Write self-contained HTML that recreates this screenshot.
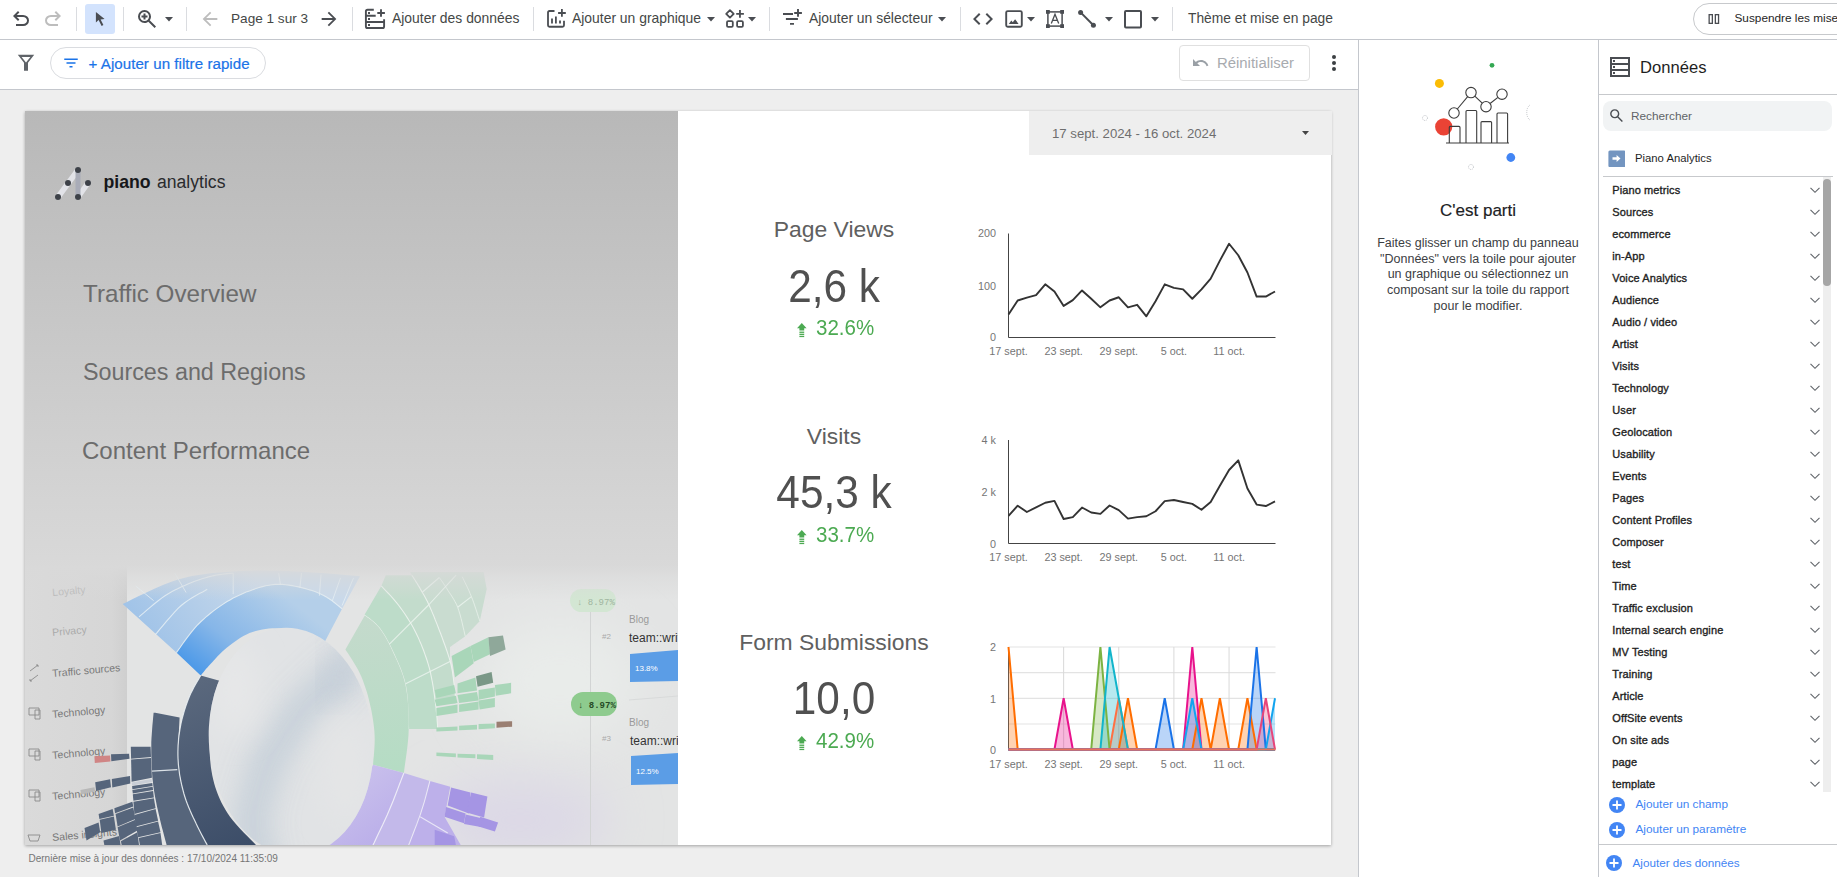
<!DOCTYPE html><html><head><meta charset="utf-8"><style>
html,body{margin:0;padding:0;width:1837px;height:877px;overflow:hidden;background:#fff;font-family:"Liberation Sans", sans-serif;}
.t{position:absolute;white-space:nowrap;}.r{position:absolute;}
</style></head><body>
<div class="r" style="left:0px;top:39px;width:1837px;height:1px;background:#c4c7cd;"></div>
<svg class="r" style="left:9.2px;top:7.3px;" width="24" height="24" viewBox="0 -960 960 960"><path d="M280-200v-80h284q63 0 109.5-40T720-420q0-60-46.5-100T564-560H312l104 104-56 56-200-200 200-200 56 56-104 104h252q97 0 166.5 63T800-420q0 94-69.5 157T564-200H280Z" fill="#4a4d52"/></svg>
<svg class="r" style="left:41.2px;top:7.4px;" width="24" height="24" viewBox="0 -960 960 960"><g transform="translate(960 0) scale(-1 1)"><path d="M280-200v-80h284q63 0 109.5-40T720-420q0-60-46.5-100T564-560H312l104 104-56 56-200-200 200-200 56 56-104 104h252q97 0 166.5 63T800-420q0 94-69.5 157T564-200H280Z" fill="#bdbdbd"/></g></svg>
<div class="r" style="left:76px;top:7px;width:1px;height:24px;background:#dadce0;"></div>
<div class="r" style="left:85px;top:4px;width:30px;height:30px;background:#d3e3fd;border-radius:3px;"></div>
<svg class="r" style="left:93px;top:11px;" width="16" height="16" viewBox="0 0 16 16"><path d="M2.9 0.9 L2.9 11.6 L5.6 9.1 L8.6 15 L10.4 14.1 L7.6 8.4 L11.6 8.1 Z" fill="#4a4d52"/></svg>
<div class="r" style="left:123px;top:7px;width:1px;height:24px;background:#dadce0;"></div>
<svg class="r" style="left:135px;top:7px;" width="24" height="24" viewBox="0 -960 960 960"><path d="M784-120 532-372q-30 24-69 38t-83 14q-109 0-184.5-75.5T120-580q0-109 75.5-184.5T380-840q109 0 184.5 75.5T640-580q0 44-14 83t-38 69l252 252-56 56ZM380-400q75 0 127.5-52.5T560-580q0-75-52.5-127.5T380-760q-75 0-127.5 52.5T200-580q0 75 52.5 127.5T380-400Zm-40-60v-80h-80v-80h80v-80h80v80h80v80h-80v80h-80Z" fill="#4a4d52"/></svg>
<svg class="r" style="left:164.5px;top:17px;" width="8" height="5" viewBox="0 0 8 5"><path d="M0 0H8L4 4.5Z" fill="#4a4d52"/></svg>
<div class="r" style="left:186px;top:7px;width:1px;height:24px;background:#dadce0;"></div>
<svg class="r" style="left:199px;top:7.8px;" width="22" height="22" viewBox="0 -960 960 960"><path d="m313-440 224 224-57 57-320-321 320-320 57 57-224 224h487v80H313Z" fill="#bdbdbd"/></svg>
<div class="t" style="left:231.0px;top:12.2px;font-size:13.6px;line-height:13.6px;color:#444746;font-weight:400;">Page 1 sur 3</div>
<svg class="r" style="left:318px;top:7.8px;" width="22" height="22" viewBox="0 -960 960 960"><path d="M647-440H160v-80h487L423-744l57-56 320 320-320 320-57-56 224-224Z" fill="#4a4d52"/></svg>
<div class="r" style="left:352px;top:7px;width:1px;height:24px;background:#dadce0;"></div>
<svg class="r" style="left:364px;top:8px;" width="23" height="22" viewBox="0 0 23 22"><g fill="none" stroke="#4a4d52" stroke-width="1.9"><path d="M9.8 1.7H3.5Q1.9 1.7 1.9 3.3V18.4Q1.9 20 3.5 20H18.5Q20.1 20 20.1 18.4V11.2"/><path d="M1.9 7.7H11.7M1.9 14H20.1"/><path d="M17 1.2V8.8M13.3 5H20.9"/></g><g fill="#4a4d52"><rect x="4" y="4" width="2" height="2"/><rect x="4" y="10" width="2" height="2"/><rect x="4" y="16" width="2" height="2"/></g></svg>
<div class="t" style="left:392.0px;top:12.1px;font-size:13.9px;line-height:13.9px;color:#444746;font-weight:400;">Ajouter des données</div>
<div class="r" style="left:533px;top:7px;width:1px;height:24px;background:#dadce0;"></div>
<svg class="r" style="left:546px;top:8px;" width="22" height="22" viewBox="0 0 22 22"><g fill="none" stroke="#4a4d52" stroke-width="1.8"><path d="M8.5 3H3.5Q2 3 2 4.5V17.25Q2 18.75 3.5 18.75H16.5Q18 18.75 18 17.25V12.8"/><path d="M6 10.5V15.5M9.9 8.5V15.5M14 12.6V15.5"/><path d="M15.9 1.1V8.7M12.1 5H19.8"/></g></svg>
<div class="t" style="left:572.0px;top:12.1px;font-size:13.9px;line-height:13.9px;color:#444746;font-weight:400;">Ajouter un graphique</div>
<svg class="r" style="left:706.5px;top:16.5px;" width="8" height="5" viewBox="0 0 8 5"><path d="M0 0H8L4 4.5Z" fill="#4a4d52"/></svg>
<svg class="r" style="left:724px;top:8px;" width="22" height="22" viewBox="0 0 22 22"><g fill="none" stroke="#4a4d52" stroke-width="1.8" stroke-linejoin="round"><path d="M5.95 2.1L9.7 5.85L5.95 9.6L2.2 5.85Z"/><rect x="3" y="13.1" width="5.8" height="5.8" rx="1.2"/><rect x="13.1" y="13.1" width="5.8" height="5.8" rx="1.2"/></g><path d="M15.95 2.1V9.7M12.2 5.95H19.9" stroke="#4a4d52" stroke-width="1.8"/></svg>
<svg class="r" style="left:747.5px;top:17px;" width="8" height="5" viewBox="0 0 8 5"><path d="M0 0H8L4 4.5Z" fill="#4a4d52"/></svg>
<div class="r" style="left:769px;top:7px;width:1px;height:24px;background:#dadce0;"></div>
<svg class="r" style="left:782px;top:8px;" width="22" height="22" viewBox="0 0 22 22"><path d="M1 6.05H11M3.9 11H15.9M8 15.9H12" stroke="#4a4d52" stroke-width="1.9"/><path d="M16 0.9V8.7M12.2 5H19.9" stroke="#4a4d52" stroke-width="1.9"/></svg>
<div class="t" style="left:809.0px;top:12.1px;font-size:13.9px;line-height:13.9px;color:#444746;font-weight:400;">Ajouter un sélecteur</div>
<svg class="r" style="left:938px;top:17px;" width="8" height="5" viewBox="0 0 8 5"><path d="M0 0H8L4 4.5Z" fill="#4a4d52"/></svg>
<div class="r" style="left:960px;top:7px;width:1px;height:24px;background:#dadce0;"></div>
<svg class="r" style="left:970px;top:7px;" width="26" height="24" viewBox="0 -960 960 960"><path d="M320-240 80-480l240-240 57 57-184 184 183 183-56 56Zm320 0-57-57 184-184-183-183 56-56 240 240-240 240Z" fill="#4a4d52"/></svg>
<svg class="r" style="left:1003px;top:8px;" width="22" height="22" viewBox="0 0 22 22"><rect x="3.2" y="3.1" width="15.6" height="15.6" rx="1.5" fill="none" stroke="#4a4d52" stroke-width="1.9"/><path d="M5.8 15.9L8.3 12.5L9.8 14.3L12.1 11.2L15.6 15.9Z" fill="#4a4d52"/></svg>
<svg class="r" style="left:1027px;top:17px;" width="8" height="5" viewBox="0 0 8 5"><path d="M0 0H8L4 4.5Z" fill="#4a4d52"/></svg>
<svg class="r" style="left:1045px;top:8px;" width="21" height="22" viewBox="0 0 21 22"><rect x="2.9" y="3.9" width="14.2" height="14.2" fill="none" stroke="#4a4d52" stroke-width="1.5"/><rect x="1" y="2" width="3.8" height="3.8" fill="#4a4d52"/><rect x="15.2" y="2" width="3.8" height="3.8" fill="#4a4d52"/><rect x="1" y="16.2" width="3.8" height="3.8" fill="#4a4d52"/><rect x="15.2" y="16.2" width="3.8" height="3.8" fill="#4a4d52"/><path d="M6.3 15.6L10 6.2L13.7 15.6M7.6 12.3H12.4" fill="none" stroke="#4a4d52" stroke-width="1.3"/></svg>
<svg class="r" style="left:1076px;top:8px;" width="22" height="22" viewBox="0 0 22 22"><path d="M4.6 4.4L17.4 17.2" stroke="#4a4d52" stroke-width="2"/><circle cx="4.6" cy="4.4" r="2.5" fill="#4a4d52"/><circle cx="17.4" cy="17.2" r="2.5" fill="#4a4d52"/></svg>
<svg class="r" style="left:1105px;top:17px;" width="8" height="5" viewBox="0 0 8 5"><path d="M0 0H8L4 4.5Z" fill="#4a4d52"/></svg>
<svg class="r" style="left:1122px;top:8px;" width="22" height="22" viewBox="0 0 22 22"><rect x="3" y="3" width="16" height="16.5" rx="1" fill="none" stroke="#4a4d52" stroke-width="2"/></svg>
<svg class="r" style="left:1151px;top:17px;" width="8" height="5" viewBox="0 0 8 5"><path d="M0 0H8L4 4.5Z" fill="#4a4d52"/></svg>
<div class="r" style="left:1172px;top:7px;width:1px;height:24px;background:#dadce0;"></div>
<div class="t" style="left:1188.0px;top:12.2px;font-size:13.8px;line-height:13.8px;color:#444746;font-weight:400;">Thème et mise en page</div>
<div class="r" style="left:1693px;top:3px;width:200px;height:32px;background:#fff;border:1px solid #c7c9cc;border-radius:16px;box-sizing:border-box;"></div>
<svg class="r" style="left:1707px;top:13px;" width="14" height="12" viewBox="0 0 14 12"><rect x="2.15" y="1.65" width="3.2" height="8.7" fill="none" stroke="#4a4d52" stroke-width="1.3"/><rect x="8.35" y="1.65" width="3.2" height="8.7" fill="none" stroke="#4a4d52" stroke-width="1.3"/></svg>
<div class="t" style="left:1734.5px;top:12.5px;font-size:11.8px;line-height:11.8px;color:#1f1f1f;font-weight:400;">Suspendre les mises à jour</div>
<div class="r" style="left:0px;top:89px;width:1358px;height:1px;background:#c4c7cd;"></div>
<svg class="r" style="left:16px;top:53px;" width="20" height="20" viewBox="0 0 20 20"><path d="M2 2.5H18L11.8 10V17.5H8.2V10Z" fill="none" stroke="#5f6368" stroke-width="0"/><path d="M1.8 1.8H18.2L12 9.8V17.8H8V9.8Z M5.6 4H14.4L10 9.5Z" fill="#5f6368" fill-rule="evenodd"/></svg>
<div class="r" style="left:50px;top:47px;width:216px;height:32px;background:#fff;border:1px solid #dadce0;border-radius:16px;box-sizing:border-box;"></div>
<svg class="r" style="left:62px;top:51px;" width="18" height="24" viewBox="0 -960 960 960"><path d="M400-240v-80h160v80H400ZM240-440v-80h480v80H240ZM120-640v-80h720v80H120Z" fill="#1a73e8"/></svg>
<div class="t" style="left:88.5px;top:55.8px;font-size:15.1px;line-height:15.1px;color:#1a73e8;font-weight:400;letter-spacing:0.05px;-webkit-text-stroke:0.2px #1a73e8;">+ Ajouter un filtre rapide</div>
<div class="r" style="left:1179px;top:45px;width:131px;height:36px;background:#fff;border:1px solid #e0e0e0;border-radius:4px;box-sizing:border-box;"></div>
<svg class="r" style="left:1190px;top:55px;" width="20" height="16" viewBox="0 0 20 16"><path d="M3 4V11H10L7.3 8.3C8.3 7.5 9.5 7 11 7C13.7 7 15.9 8.8 16.6 11.2L18.4 10.6C17.4 7.4 14.4 5 11 5C9 5 7.2 5.7 5.9 6.9Z" fill="#9aa0a6"/></svg>
<div class="t" style="left:1217.0px;top:55.6px;font-size:14.9px;line-height:14.9px;color:#a8abaf;font-weight:400;">Réinitialiser</div>
<div class="r" style="left:1332px;top:55px;width:4px;height:4px;border-radius:2px;background:#3c4043"></div>
<div class="r" style="left:1332px;top:61px;width:4px;height:4px;border-radius:2px;background:#3c4043"></div>
<div class="r" style="left:1332px;top:67px;width:4px;height:4px;border-radius:2px;background:#3c4043"></div>
<div class="r" style="left:1358px;top:40px;width:1px;height:837px;background:#c4c7cd;"></div>
<div class="r" style="left:0px;top:90px;width:1358px;height:787px;background:#eeeeee;"></div>
<div class="r" style="left:25px;top:111px;width:1306px;height:734px;background:#fff;box-shadow:0 1px 3px rgba(0,0,0,0.32);"></div>
<div class="r" style="left:25px;top:111px;width:653px;height:734px;background:linear-gradient(180deg,#b8b8b8 0px,#d9d9d9 460px,#dadada 734px);"></div>
<div class="r" style="left:1029px;top:111px;width:303px;height:44px;background:#eeeeee;"></div>
<div class="t" style="left:1052.0px;top:126.8px;font-size:13.2px;line-height:13.2px;color:#6e6e6e;font-weight:400;">17 sept. 2024 - 16 oct. 2024</div>
<svg class="r" style="left:1302px;top:131px;" width="8" height="5" viewBox="0 0 8 5"><path d="M0 0H7L3.5 4Z" fill="#444"/></svg>
<div class="t" style="left:28.5px;top:853.5px;font-size:10px;line-height:10px;color:#757575;font-weight:400;">Dernière mise à jour des données : 17/10/2024 11:35:09</div>
<svg class="r" style="left:50px;top:160px;" width="50" height="45" viewBox="0 0 50 45"><g stroke="#e2e3e8" stroke-width="5.5" stroke-linecap="round"><path d="M8 37L28 10"/><path d="M28 37L38 23"/></g><path d="M28 10V37" stroke="#a9acb8" stroke-width="5"/><g fill="#3d4148"><circle cx="28" cy="10" r="3"/><circle cx="18" cy="23" r="3"/><circle cx="38" cy="23" r="3"/><circle cx="8" cy="37" r="3"/><circle cx="28" cy="37" r="3"/></g></svg>
<div class="t" style="left:103.5px;top:173.7px;font-size:17.7px;line-height:17.7px;color:#16171a;font-weight:700;">piano</div>
<div class="t" style="left:157.0px;top:173.8px;font-size:17.6px;line-height:17.6px;color:#2a2b2e;font-weight:400;">analytics</div>
<div class="t" style="left:83.0px;top:281.8px;font-size:24.2px;line-height:24.2px;color:#6c6c6c;font-weight:400;">Traffic Overview</div>
<div class="t" style="left:83.0px;top:361.0px;font-size:23.3px;line-height:23.3px;color:#6c6c6c;font-weight:400;">Sources and Regions</div>
<div class="t" style="left:82.0px;top:438.7px;font-size:24.0px;line-height:24.0px;color:#6c6c6c;font-weight:400;">Content Performance</div>
<div class="t" style="left:534.0px;width:600px;text-align:center;top:217.9px;font-size:22.9px;line-height:22.9px;color:#606060;font-weight:400;">Page Views</div>
<div class="t" style="left:534.0px;width:600px;text-align:center;top:261.8px;font-size:47px;line-height:47px;color:#505050;font-weight:400;transform:scaleX(0.9);">2,6 k</div>
<svg class="r" style="left:796.5px;top:323.3px;" width="11" height="15" viewBox="0 0 11 15"><path d="M4.8 0L9.6 5.2H7.2V7.6H2.4V5.2H0Z" fill="#4caa52"/><rect x="2.4" y="8.6" width="4.8" height="1.3" fill="#4caa52"/><rect x="2.4" y="10.7" width="4.8" height="1.3" fill="#4caa52"/><rect x="2.4" y="12.8" width="4.8" height="1.3" fill="#4caa52"/></svg>
<div class="t" style="left:815.5px;top:316.9px;font-size:22.3px;line-height:22.3px;color:#4caa52;font-weight:400;transform:scaleX(0.92);transform-origin:0 0;">32.6%</div>
<div class="t" style="left:534.0px;width:600px;text-align:center;top:424.8px;font-size:22.9px;line-height:22.9px;color:#606060;font-weight:400;">Visits</div>
<div class="t" style="left:534.0px;width:600px;text-align:center;top:468.1px;font-size:47px;line-height:47px;color:#505050;font-weight:400;transform:scaleX(0.9);">45,3 k</div>
<svg class="r" style="left:796.5px;top:529.8px;" width="11" height="15" viewBox="0 0 11 15"><path d="M4.8 0L9.6 5.2H7.2V7.6H2.4V5.2H0Z" fill="#4caa52"/><rect x="2.4" y="8.6" width="4.8" height="1.3" fill="#4caa52"/><rect x="2.4" y="10.7" width="4.8" height="1.3" fill="#4caa52"/><rect x="2.4" y="12.8" width="4.8" height="1.3" fill="#4caa52"/></svg>
<div class="t" style="left:815.5px;top:523.6px;font-size:22.3px;line-height:22.3px;color:#4caa52;font-weight:400;transform:scaleX(0.92);transform-origin:0 0;">33.7%</div>
<div class="t" style="left:534.0px;width:600px;text-align:center;top:631.0px;font-size:22.9px;line-height:22.9px;color:#606060;font-weight:400;">Form Submissions</div>
<div class="t" style="left:534.0px;width:600px;text-align:center;top:674.2px;font-size:47px;line-height:47px;color:#505050;font-weight:400;transform:scaleX(0.9);">10,0</div>
<svg class="r" style="left:796.5px;top:735.8px;" width="11" height="15" viewBox="0 0 11 15"><path d="M4.8 0L9.6 5.2H7.2V7.6H2.4V5.2H0Z" fill="#4caa52"/><rect x="2.4" y="8.6" width="4.8" height="1.3" fill="#4caa52"/><rect x="2.4" y="10.7" width="4.8" height="1.3" fill="#4caa52"/><rect x="2.4" y="12.8" width="4.8" height="1.3" fill="#4caa52"/></svg>
<div class="t" style="left:815.5px;top:729.9px;font-size:22.3px;line-height:22.3px;color:#4caa52;font-weight:400;transform:scaleX(0.92);transform-origin:0 0;">42.9%</div>
<div class="t" style="left:946px;width:50px;text-align:right;top:228.4px;font-size:10.8px;line-height:10.8px;color:#757575">200</div>
<div class="t" style="left:946px;width:50px;text-align:right;top:280.5px;font-size:10.8px;line-height:10.8px;color:#757575">100</div>
<div class="t" style="left:946px;width:50px;text-align:right;top:331.9px;font-size:10.8px;line-height:10.8px;color:#757575">0</div>
<div class="t" style="left:968.5px;width:80px;text-align:center;top:345.6px;font-size:10.8px;line-height:10.8px;color:#757575">17 sept.</div>
<div class="t" style="left:1023.6px;width:80px;text-align:center;top:345.6px;font-size:10.8px;line-height:10.8px;color:#757575">23 sept.</div>
<div class="t" style="left:1078.8px;width:80px;text-align:center;top:345.6px;font-size:10.8px;line-height:10.8px;color:#757575">29 sept.</div>
<div class="t" style="left:1133.9px;width:80px;text-align:center;top:345.6px;font-size:10.8px;line-height:10.8px;color:#757575">5 oct.</div>
<div class="t" style="left:1189.1px;width:80px;text-align:center;top:345.6px;font-size:10.8px;line-height:10.8px;color:#757575">11 oct.</div>
<svg class="r" style="left:0;top:0" width="1837" height="877"><path d="M1008.5 233.5V337.5H1275.5" fill="none" stroke="#444" stroke-width="1"/><polyline points="1008.50,314.52 1017.69,300.50 1026.88,297.63 1036.07,295.11 1045.26,284.33 1054.45,291.52 1063.64,305.89 1072.83,300.14 1082.02,290.44 1091.21,298.71 1100.40,307.33 1109.59,300.50 1118.78,297.27 1127.97,307.33 1137.16,304.81 1146.35,316.31 1155.54,301.22 1164.73,284.33 1173.92,287.93 1183.11,289.36 1192.30,298.71 1201.49,289.36 1210.68,278.58 1219.87,260.62 1229.06,243.73 1238.25,255.23 1247.44,272.48 1256.63,296.55 1265.82,296.55 1275.01,291.52" fill="none" stroke="#333" stroke-width="1.9" stroke-linejoin="round"/></svg>
<div class="t" style="left:946px;width:50px;text-align:right;top:435.1px;font-size:10.8px;line-height:10.8px;color:#757575">4 k</div>
<div class="t" style="left:946px;width:50px;text-align:right;top:486.9px;font-size:10.8px;line-height:10.8px;color:#757575">2 k</div>
<div class="t" style="left:946px;width:50px;text-align:right;top:538.7px;font-size:10.8px;line-height:10.8px;color:#757575">0</div>
<div class="t" style="left:968.5px;width:80px;text-align:center;top:551.6px;font-size:10.8px;line-height:10.8px;color:#757575">17 sept.</div>
<div class="t" style="left:1023.6px;width:80px;text-align:center;top:551.6px;font-size:10.8px;line-height:10.8px;color:#757575">23 sept.</div>
<div class="t" style="left:1078.8px;width:80px;text-align:center;top:551.6px;font-size:10.8px;line-height:10.8px;color:#757575">29 sept.</div>
<div class="t" style="left:1133.9px;width:80px;text-align:center;top:551.6px;font-size:10.8px;line-height:10.8px;color:#757575">5 oct.</div>
<div class="t" style="left:1189.1px;width:80px;text-align:center;top:551.6px;font-size:10.8px;line-height:10.8px;color:#757575">11 oct.</div>
<svg class="r" style="left:0;top:0" width="1837" height="877"><path d="M1008.5 440V543.5H1275.5" fill="none" stroke="#444" stroke-width="1"/><polyline points="1008.50,515.87 1017.69,505.69 1026.88,511.99 1036.07,507.36 1045.26,502.73 1054.45,500.88 1063.64,519.02 1072.83,517.17 1082.02,507.54 1091.21,512.54 1100.40,513.84 1109.59,505.51 1118.78,510.14 1127.97,518.65 1137.16,517.17 1146.35,516.24 1155.54,511.25 1164.73,501.07 1173.92,499.96 1183.11,501.99 1192.30,503.84 1201.49,509.76 1210.68,501.99 1219.87,485.70 1229.06,469.97 1238.25,460.35 1247.44,488.48 1256.63,504.58 1265.82,506.06 1275.01,501.44" fill="none" stroke="#333" stroke-width="1.9" stroke-linejoin="round"/></svg>
<div class="t" style="left:946px;width:50px;text-align:right;top:642.3px;font-size:10.8px;line-height:10.8px;color:#757575">2</div>
<div class="t" style="left:946px;width:50px;text-align:right;top:693.6px;font-size:10.8px;line-height:10.8px;color:#757575">1</div>
<div class="t" style="left:946px;width:50px;text-align:right;top:745.4px;font-size:10.8px;line-height:10.8px;color:#757575">0</div>
<div class="t" style="left:968.5px;width:80px;text-align:center;top:758.6px;font-size:10.8px;line-height:10.8px;color:#757575">17 sept.</div>
<div class="t" style="left:1023.6px;width:80px;text-align:center;top:758.6px;font-size:10.8px;line-height:10.8px;color:#757575">23 sept.</div>
<div class="t" style="left:1078.8px;width:80px;text-align:center;top:758.6px;font-size:10.8px;line-height:10.8px;color:#757575">29 sept.</div>
<div class="t" style="left:1133.9px;width:80px;text-align:center;top:758.6px;font-size:10.8px;line-height:10.8px;color:#757575">5 oct.</div>
<div class="t" style="left:1189.1px;width:80px;text-align:center;top:758.6px;font-size:10.8px;line-height:10.8px;color:#757575">11 oct.</div>
<svg class="r" style="left:0;top:0" width="1837" height="877"><path d="M1008.5 647H1275.5" stroke="#e3e3e3" stroke-width="1.2"/><path d="M1008.5 672.6H1275.5" stroke="#e3e3e3" stroke-width="1.2"/><path d="M1008.5 698.3H1275.5" stroke="#e3e3e3" stroke-width="1.2"/><path d="M1008.5 724H1275.5" stroke="#e3e3e3" stroke-width="1.2"/><path d="M1008.5 749.5H1275.5" stroke="#e3e3e3" stroke-width="1.2"/><path d="M1063.64 647V749.5" stroke="#d9d9d9" stroke-width="1"/><path d="M1118.78 647V749.5" stroke="#d9d9d9" stroke-width="1"/><path d="M1173.92 647V749.5" stroke="#d9d9d9" stroke-width="1"/><path d="M1229.06 647V749.5" stroke="#d9d9d9" stroke-width="1"/><path d="M1008.5 647V749.5" stroke="#555" stroke-width="1"/><polygon points="1008.5,749.5 1008.50,647.00 1017.69,749.50 1026.88,749.50 1036.07,749.50 1045.26,749.50 1054.45,749.50 1063.64,749.50 1072.83,749.50 1082.02,749.50 1091.21,749.50 1100.40,749.50 1109.59,749.50 1118.78,749.50 1127.97,698.25 1137.16,749.50 1146.35,749.50 1155.54,749.50 1164.73,749.50 1173.92,749.50 1183.11,749.50 1192.30,749.50 1201.49,698.25 1210.68,749.50 1219.87,698.25 1229.06,749.50 1238.25,749.50 1247.44,698.25 1256.63,749.50 1265.82,749.50 1275.01,749.50 1275.01,749.5" fill="#ff6d00" fill-opacity="0.3" stroke="none"/><polygon points="1008.5,749.5 1008.50,749.50 1017.69,749.50 1026.88,749.50 1036.07,749.50 1045.26,749.50 1054.45,749.50 1063.64,749.50 1072.83,749.50 1082.02,749.50 1091.21,749.50 1100.40,749.50 1109.59,749.50 1118.78,698.25 1127.97,749.50 1137.16,749.50 1146.35,749.50 1155.54,749.50 1164.73,749.50 1173.92,749.50 1183.11,749.50 1192.30,749.50 1201.49,749.50 1210.68,749.50 1219.87,749.50 1229.06,749.50 1238.25,749.50 1247.44,749.50 1256.63,749.50 1265.82,749.50 1275.01,749.50 1275.01,749.5" fill="#ff7043" fill-opacity="0.3" stroke="none"/><polygon points="1008.5,749.5 1008.50,749.50 1017.69,749.50 1026.88,749.50 1036.07,749.50 1045.26,749.50 1054.45,749.50 1063.64,698.25 1072.83,749.50 1082.02,749.50 1091.21,749.50 1100.40,749.50 1109.59,749.50 1118.78,749.50 1127.97,749.50 1137.16,749.50 1146.35,749.50 1155.54,749.50 1164.73,749.50 1173.92,749.50 1183.11,749.50 1192.30,647.00 1201.49,749.50 1210.68,749.50 1219.87,749.50 1229.06,749.50 1238.25,749.50 1247.44,749.50 1256.63,749.50 1265.82,749.50 1275.01,749.50 1275.01,749.5" fill="#e8138c" fill-opacity="0.3" stroke="none"/><polygon points="1008.5,749.5 1008.50,749.50 1017.69,749.50 1026.88,749.50 1036.07,749.50 1045.26,749.50 1054.45,749.50 1063.64,749.50 1072.83,749.50 1082.02,749.50 1091.21,749.50 1100.40,647.00 1109.59,749.50 1118.78,749.50 1127.97,749.50 1137.16,749.50 1146.35,749.50 1155.54,749.50 1164.73,749.50 1173.92,749.50 1183.11,749.50 1192.30,749.50 1201.49,749.50 1210.68,749.50 1219.87,749.50 1229.06,749.50 1238.25,749.50 1247.44,749.50 1256.63,749.50 1265.82,749.50 1275.01,749.50 1275.01,749.5" fill="#7cb342" fill-opacity="0.3" stroke="none"/><polygon points="1008.5,749.5 1008.50,749.50 1017.69,749.50 1026.88,749.50 1036.07,749.50 1045.26,749.50 1054.45,749.50 1063.64,749.50 1072.83,749.50 1082.02,749.50 1091.21,749.50 1100.40,749.50 1109.59,647.00 1118.78,698.25 1127.97,749.50 1137.16,749.50 1146.35,749.50 1155.54,749.50 1164.73,749.50 1173.92,749.50 1183.11,749.50 1192.30,749.50 1201.49,749.50 1210.68,749.50 1219.87,749.50 1229.06,749.50 1238.25,749.50 1247.44,749.50 1256.63,749.50 1265.82,749.50 1275.01,749.50 1275.01,749.5" fill="#12b5cb" fill-opacity="0.3" stroke="none"/><polygon points="1008.5,749.5 1008.50,749.50 1017.69,749.50 1026.88,749.50 1036.07,749.50 1045.26,749.50 1054.45,749.50 1063.64,749.50 1072.83,749.50 1082.02,749.50 1091.21,749.50 1100.40,749.50 1109.59,749.50 1118.78,749.50 1127.97,749.50 1137.16,749.50 1146.35,749.50 1155.54,749.50 1164.73,698.25 1173.92,749.50 1183.11,749.50 1192.30,749.50 1201.49,749.50 1210.68,749.50 1219.87,749.50 1229.06,749.50 1238.25,749.50 1247.44,749.50 1256.63,647.00 1265.82,749.50 1275.01,749.50 1275.01,749.5" fill="#1a73e8" fill-opacity="0.3" stroke="none"/><polygon points="1008.5,749.5 1008.50,749.50 1017.69,749.50 1026.88,749.50 1036.07,749.50 1045.26,749.50 1054.45,749.50 1063.64,749.50 1072.83,749.50 1082.02,749.50 1091.21,749.50 1100.40,749.50 1109.59,749.50 1118.78,749.50 1127.97,749.50 1137.16,749.50 1146.35,749.50 1155.54,749.50 1164.73,749.50 1173.92,749.50 1183.11,749.50 1192.30,698.25 1201.49,749.50 1210.68,749.50 1219.87,749.50 1229.06,749.50 1238.25,749.50 1247.44,749.50 1256.63,749.50 1265.82,749.50 1275.01,698.25 1275.01,749.5" fill="#12a4ef" fill-opacity="0.3" stroke="none"/><polygon points="1008.5,749.5 1008.50,749.50 1017.69,749.50 1026.88,749.50 1036.07,749.50 1045.26,749.50 1054.45,749.50 1063.64,749.50 1072.83,749.50 1082.02,749.50 1091.21,749.50 1100.40,749.50 1109.59,749.50 1118.78,749.50 1127.97,749.50 1137.16,749.50 1146.35,749.50 1155.54,749.50 1164.73,749.50 1173.92,749.50 1183.11,749.50 1192.30,749.50 1201.49,749.50 1210.68,749.50 1219.87,749.50 1229.06,749.50 1238.25,749.50 1247.44,749.50 1256.63,749.50 1265.82,698.25 1275.01,749.50 1275.01,749.5" fill="#e8457a" fill-opacity="0.3" stroke="none"/><polyline points="1008.50,647.00 1017.69,749.50 1026.88,749.50 1036.07,749.50 1045.26,749.50 1054.45,749.50 1063.64,749.50 1072.83,749.50 1082.02,749.50 1091.21,749.50 1100.40,749.50 1109.59,749.50 1118.78,749.50 1127.97,698.25 1137.16,749.50 1146.35,749.50 1155.54,749.50 1164.73,749.50 1173.92,749.50 1183.11,749.50 1192.30,749.50 1201.49,698.25 1210.68,749.50 1219.87,698.25 1229.06,749.50 1238.25,749.50 1247.44,698.25 1256.63,749.50 1265.82,749.50 1275.01,749.50" fill="none" stroke="#ff6d00" stroke-width="2" stroke-linejoin="miter"/><polyline points="1008.50,749.50 1017.69,749.50 1026.88,749.50 1036.07,749.50 1045.26,749.50 1054.45,749.50 1063.64,749.50 1072.83,749.50 1082.02,749.50 1091.21,749.50 1100.40,749.50 1109.59,749.50 1118.78,698.25 1127.97,749.50 1137.16,749.50 1146.35,749.50 1155.54,749.50 1164.73,749.50 1173.92,749.50 1183.11,749.50 1192.30,749.50 1201.49,749.50 1210.68,749.50 1219.87,749.50 1229.06,749.50 1238.25,749.50 1247.44,749.50 1256.63,749.50 1265.82,749.50 1275.01,749.50" fill="none" stroke="#ff7043" stroke-width="2" stroke-linejoin="miter"/><polyline points="1008.50,749.50 1017.69,749.50 1026.88,749.50 1036.07,749.50 1045.26,749.50 1054.45,749.50 1063.64,698.25 1072.83,749.50 1082.02,749.50 1091.21,749.50 1100.40,749.50 1109.59,749.50 1118.78,749.50 1127.97,749.50 1137.16,749.50 1146.35,749.50 1155.54,749.50 1164.73,749.50 1173.92,749.50 1183.11,749.50 1192.30,647.00 1201.49,749.50 1210.68,749.50 1219.87,749.50 1229.06,749.50 1238.25,749.50 1247.44,749.50 1256.63,749.50 1265.82,749.50 1275.01,749.50" fill="none" stroke="#e8138c" stroke-width="2" stroke-linejoin="miter"/><polyline points="1008.50,749.50 1017.69,749.50 1026.88,749.50 1036.07,749.50 1045.26,749.50 1054.45,749.50 1063.64,749.50 1072.83,749.50 1082.02,749.50 1091.21,749.50 1100.40,647.00 1109.59,749.50 1118.78,749.50 1127.97,749.50 1137.16,749.50 1146.35,749.50 1155.54,749.50 1164.73,749.50 1173.92,749.50 1183.11,749.50 1192.30,749.50 1201.49,749.50 1210.68,749.50 1219.87,749.50 1229.06,749.50 1238.25,749.50 1247.44,749.50 1256.63,749.50 1265.82,749.50 1275.01,749.50" fill="none" stroke="#7cb342" stroke-width="2" stroke-linejoin="miter"/><polyline points="1008.50,749.50 1017.69,749.50 1026.88,749.50 1036.07,749.50 1045.26,749.50 1054.45,749.50 1063.64,749.50 1072.83,749.50 1082.02,749.50 1091.21,749.50 1100.40,749.50 1109.59,647.00 1118.78,698.25 1127.97,749.50 1137.16,749.50 1146.35,749.50 1155.54,749.50 1164.73,749.50 1173.92,749.50 1183.11,749.50 1192.30,749.50 1201.49,749.50 1210.68,749.50 1219.87,749.50 1229.06,749.50 1238.25,749.50 1247.44,749.50 1256.63,749.50 1265.82,749.50 1275.01,749.50" fill="none" stroke="#12b5cb" stroke-width="2" stroke-linejoin="miter"/><polyline points="1008.50,749.50 1017.69,749.50 1026.88,749.50 1036.07,749.50 1045.26,749.50 1054.45,749.50 1063.64,749.50 1072.83,749.50 1082.02,749.50 1091.21,749.50 1100.40,749.50 1109.59,749.50 1118.78,749.50 1127.97,749.50 1137.16,749.50 1146.35,749.50 1155.54,749.50 1164.73,698.25 1173.92,749.50 1183.11,749.50 1192.30,749.50 1201.49,749.50 1210.68,749.50 1219.87,749.50 1229.06,749.50 1238.25,749.50 1247.44,749.50 1256.63,647.00 1265.82,749.50 1275.01,749.50" fill="none" stroke="#1a73e8" stroke-width="2" stroke-linejoin="miter"/><polyline points="1008.50,749.50 1017.69,749.50 1026.88,749.50 1036.07,749.50 1045.26,749.50 1054.45,749.50 1063.64,749.50 1072.83,749.50 1082.02,749.50 1091.21,749.50 1100.40,749.50 1109.59,749.50 1118.78,749.50 1127.97,749.50 1137.16,749.50 1146.35,749.50 1155.54,749.50 1164.73,749.50 1173.92,749.50 1183.11,749.50 1192.30,698.25 1201.49,749.50 1210.68,749.50 1219.87,749.50 1229.06,749.50 1238.25,749.50 1247.44,749.50 1256.63,749.50 1265.82,749.50 1275.01,698.25" fill="none" stroke="#12a4ef" stroke-width="2" stroke-linejoin="miter"/><polyline points="1008.50,749.50 1017.69,749.50 1026.88,749.50 1036.07,749.50 1045.26,749.50 1054.45,749.50 1063.64,749.50 1072.83,749.50 1082.02,749.50 1091.21,749.50 1100.40,749.50 1109.59,749.50 1118.78,749.50 1127.97,749.50 1137.16,749.50 1146.35,749.50 1155.54,749.50 1164.73,749.50 1173.92,749.50 1183.11,749.50 1192.30,749.50 1201.49,749.50 1210.68,749.50 1219.87,749.50 1229.06,749.50 1238.25,749.50 1247.44,749.50 1256.63,749.50 1265.82,698.25 1275.01,749.50" fill="none" stroke="#e8457a" stroke-width="2" stroke-linejoin="miter"/><path d="M1008.5 749.5H1275.5" stroke="#e8735a" stroke-width="2"/></svg>
<svg class="r" style="left:0;top:0" width="1837" height="877"><defs><clipPath id="cl"><rect x="25" y="566" width="653" height="279"/></clipPath><linearGradient id="fade" x1="0" y1="0" x2="0" y2="1"><stop offset="0" stop-color="#d9d9d9" stop-opacity="1"/><stop offset="0.35" stop-color="#d9d9d9" stop-opacity="0.55"/><stop offset="1" stop-color="#d9d9d9" stop-opacity="0"/></linearGradient><linearGradient id="lb" gradientUnits="userSpaceOnUse" x1="270" y1="585" x2="200" y2="676"><stop offset="0" stop-color="#b4cfe9"/><stop offset="0.6" stop-color="#86b6e8"/><stop offset="1" stop-color="#4a98e8"/></linearGradient><linearGradient id="lb2" gradientUnits="userSpaceOnUse" x1="250" y1="570" x2="150" y2="650"><stop offset="0" stop-color="#c9d9ea"/><stop offset="1" stop-color="#9ec2e8"/></linearGradient><linearGradient id="dk" gradientUnits="userSpaceOnUse" x1="180" y1="690" x2="250" y2="845"><stop offset="0" stop-color="#5a687d"/><stop offset="1" stop-color="#3c4d68"/></linearGradient><linearGradient id="pu" gradientUnits="userSpaceOnUse" x1="360" y1="770" x2="420" y2="845"><stop offset="0" stop-color="#c9c0ec"/><stop offset="1" stop-color="#b5a8e8"/></linearGradient><linearGradient id="gr" gradientUnits="userSpaceOnUse" x1="370" y1="600" x2="380" y2="770"><stop offset="0" stop-color="#c6dacd"/><stop offset="1" stop-color="#b5dcc4"/></linearGradient><linearGradient id="gfade" gradientUnits="userSpaceOnUse" x1="0" y1="570" x2="0" y2="660"><stop offset="0" stop-color="#cfdcd4"/><stop offset="1" stop-color="#b9d9c5"/></linearGradient><filter id="bl" x="-50%" y="-50%" width="200%" height="200%"><feGaussianBlur stdDeviation="14"/></filter><filter id="bl2" x="-50%" y="-50%" width="200%" height="200%"><feGaussianBlur stdDeviation="25"/></filter></defs><g clip-path="url(#cl)"><rect x="25" y="560" width="653" height="285" fill="#e3e4e4"/><ellipse cx="560" cy="680" rx="80" ry="60" fill="#e9ecea" filter="url(#bl2)"/><ellipse cx="520" cy="820" rx="90" ry="40" fill="#dcd8e6" filter="url(#bl2)"/><defs><linearGradient id="sbg" x1="0" y1="0" x2="1" y2="0"><stop offset="0" stop-color="#dadada"/><stop offset="0.85" stop-color="#d6d6d6"/><stop offset="1" stop-color="#cfcfcf"/></linearGradient></defs><rect x="25" y="560" width="102" height="285" fill="url(#sbg)"/><text x="52.6" y="596" font-size="10.5" fill="#b8b8b8" font-family="Liberation Sans" transform="rotate(-5 52.6 596)">Loyalty</text><text x="52.6" y="636" font-size="10.5" fill="#aaaaaa" font-family="Liberation Sans" transform="rotate(-5 52.6 636)">Privacy</text><text x="52.6" y="677" font-size="10.5" fill="#7a7a7a" font-family="Liberation Sans" transform="rotate(-5 52.6 677)">Traffic sources</text><text x="52.6" y="718" font-size="10.5" fill="#777" font-family="Liberation Sans" transform="rotate(-5 52.6 718)">Technology</text><text x="52.6" y="759" font-size="10.5" fill="#777" font-family="Liberation Sans" transform="rotate(-5 52.6 759)">Technology</text><text x="52.6" y="800" font-size="10.5" fill="#777" font-family="Liberation Sans" transform="rotate(-5 52.6 800)">Technology</text><text x="52.6" y="841" font-size="10.5" fill="#777" font-family="Liberation Sans" transform="rotate(-5 52.6 841)">Sales insights</text><path d="M29 708h10v7h-10z M35 710h5v9h-5z" fill="none" stroke="#8a8a8a" stroke-width="0.9"/><path d="M29 749h10v7h-10z M35 751h5v9h-5z" fill="none" stroke="#8a8a8a" stroke-width="0.9"/><path d="M29 790h10v7h-10z M35 792h5v9h-5z" fill="none" stroke="#8a8a8a" stroke-width="0.9"/><path d="M30 671l8 -6M30 681l8 -6M36 665l2 0 0 2M32 681l-2 0 0 -2" fill="none" stroke="#8a8a8a" stroke-width="0.9"/><path d="M28 835h12l-2 6h-8z" fill="none" stroke="#8a8a8a" stroke-width="0.9"/><path d="M122.7 603.9L127.0 601.9L132.7 599.1L139.4 595.8L146.9 592.2L154.9 588.5L162.9 585.0L170.7 581.9L178.0 579.5L184.9 577.7L191.7 576.1L198.4 574.9L205.2 573.9L212.1 573.1L219.0 572.5L226.0 571.9L233.2 571.4L240.6 571.0L248.2 570.7L255.8 570.6L263.5 570.6L271.3 570.7L279.2 570.8L287.1 571.1L295.0 571.4L303.4 571.8L312.5 572.4L322.0 573.1L331.4 573.8L340.2 574.6L348.2 575.3L355.0 575.8L360.0 576.2L342.1 608.7L324.2 595.7L322.5 595.1L320.2 594.2L317.5 593.1L314.5 591.9L311.3 590.7L307.9 589.5L304.6 588.5L301.5 587.6L298.4 586.9L295.2 586.2L292.0 585.6L288.7 585.1L285.4 584.7L282.1 584.4L278.8 584.3L275.5 584.4L272.2 584.7L269.0 585.2L265.7 585.8L262.5 586.6L259.2 587.5L256.0 588.6L252.7 589.7L249.5 590.9L246.2 592.1L243.0 593.5L239.7 594.9L236.5 596.5L233.2 598.1L230.0 599.9L226.7 601.8L223.5 603.9L220.2 606.1L216.9 608.4L213.5 610.9L210.2 613.5L206.9 616.2L203.7 619.1L200.5 622.0L197.5 625.0L194.5 628.3L191.4 632.1L188.3 636.1L185.3 640.1L182.5 644.0L180.1 647.5L178.0 650.4L176.4 652.6Z" fill="url(#lb2)" /><path d="M176.4 652.6L178.0 650.4L180.1 647.5L182.5 644.0L185.3 640.1L188.3 636.1L191.4 632.1L194.5 628.3L197.5 625.0L200.5 622.0L203.7 619.1L206.9 616.2L210.2 613.5L213.5 610.9L216.9 608.4L220.2 606.1L223.5 603.9L226.7 601.8L230.0 599.9L233.2 598.1L236.5 596.5L239.7 594.9L243.0 593.5L246.2 592.1L249.5 590.9L252.7 589.7L256.0 588.6L259.2 587.5L262.5 586.6L265.7 585.8L269.0 585.2L272.2 584.7L275.5 584.4L278.8 584.3L282.1 584.4L285.4 584.7L288.7 585.1L292.0 585.6L295.2 586.2L298.4 586.9L301.5 587.6L304.5 588.4L307.5 589.2L310.5 590.1L313.4 591.1L316.2 592.1L319.0 593.3L321.7 594.5L324.2 595.7L326.8 597.2L329.5 599.0L332.1 600.8L334.6 602.8L336.9 604.6L339.0 606.3L340.8 607.7L342.1 608.7L322.6 646.1L321.0 645.1L318.9 643.6L316.5 641.8L313.7 639.9L310.7 638.0L307.6 636.1L304.5 634.4L301.5 633.1L298.5 632.1L295.3 631.1L292.1 630.3L288.8 629.6L285.5 629.0L282.1 628.6L278.8 628.3L275.5 628.2L272.2 628.3L268.9 628.6L265.6 628.9L262.3 629.5L259.0 630.2L255.8 631.0L252.6 632.0L249.5 633.1L246.5 634.5L243.4 636.1L240.4 637.8L237.5 639.7L234.7 641.7L231.9 643.7L229.3 645.8L226.7 647.7L224.4 649.7L222.1 651.8L219.9 653.9L217.8 656.1L215.8 658.2L214.0 660.2L212.2 662.2L210.5 664.0L208.9 665.7L207.4 667.5L205.9 669.1L204.6 670.7L203.4 672.2L202.3 673.4L201.5 674.5L200.7 675.4Z" fill="url(#lb)" /><path d="M176.4 652.6L178.0 650.4L180.1 647.5L182.5 644.0L185.3 640.1L188.3 636.1L191.4 632.1L194.5 628.3L197.5 625.0L200.5 622.0L203.7 619.1L206.9 616.2L210.2 613.5L213.5 610.9L216.9 608.4L220.2 606.1L223.5 603.9L226.7 601.8L230.0 599.9L233.2 598.1L236.5 596.5L239.7 594.9L243.0 593.5L246.2 592.1L249.5 590.9L252.7 589.7L256.0 588.6L259.2 587.5L262.5 586.6L265.7 585.8L269.0 585.2L272.2 584.7L275.5 584.4L278.8 584.3L282.1 584.4L285.4 584.7L288.7 585.1L292.0 585.6L295.2 586.2L298.4 586.9L301.5 587.6L304.5 588.4L307.5 589.2L310.5 590.1L313.4 591.1L316.2 592.1L319.0 593.3L321.7 594.5L324.2 595.7L326.8 597.2L329.5 599.0L332.1 600.8L334.6 602.8L336.9 604.6L339.0 606.3L340.8 607.7L342.1 608.7" fill="none" stroke="#e6f0f5" stroke-width="1.1" opacity="0.85"/><path d="M139.0 616.9L141.0 615.2L143.7 612.9L146.8 610.1L150.4 607.1L154.1 604.0L157.9 601.0L161.6 598.1L165.0 595.7L168.3 593.7L171.6 591.8L174.9 590.0L178.2 588.4L181.5 586.8L184.7 585.4L187.9 584.0L191.0 582.7L194.0 581.5L197.0 580.4L199.9 579.4L202.8 578.5L205.6 577.7L208.4 576.9L211.1 576.2L213.7 575.6L216.5 575.0L219.3 574.6L222.2 574.2L224.9 573.9L227.5 573.6L229.8 573.4L231.8 573.2L233.2 573.0" fill="none" stroke="#e6f0f5" stroke-width="1.1" opacity="0.85"/><path d="M155.2 634.7L157.3 632.4L159.9 629.2L163.1 625.4L166.6 621.1L170.4 616.8L174.1 612.6L177.8 608.7L181.2 605.5L184.7 602.7L188.4 600.1L192.1 597.7L195.9 595.5L199.4 593.6L202.6 591.9L205.2 590.4L207.2 589.2" fill="none" stroke="#e6f0f5" stroke-width="1.1" opacity="0.85"/><path d="M233.2 573.0L233.2 594.1" fill="none" stroke="#e6f0f5" stroke-width="1.0" opacity="0.8"/><path d="M278.7 573.0L280.4 584.4" fill="none" stroke="#e6f0f5" stroke-width="1.0" opacity="0.8"/><path d="M301.5 573.0L299.9 587.6" fill="none" stroke="#e6f0f5" stroke-width="1.0" opacity="0.8"/><path d="M321.0 574.6L319.4 595.7" fill="none" stroke="#e6f0f5" stroke-width="1.0" opacity="0.8"/><path d="M340.5 577.9L332.4 600.6" fill="none" stroke="#e6f0f5" stroke-width="1.0" opacity="0.8"/><path d="M174.7 573.0L186.1 592.5" fill="none" stroke="#e6f0f5" stroke-width="1.0" opacity="0.8"/><path d="M135.7 586.0L153.6 600.6" fill="none" stroke="#e6f0f5" stroke-width="1.0" opacity="0.8"/><path d="M353.5 577.9L342.1 605.5" fill="none" stroke="#e6f0f5" stroke-width="1.0" opacity="0.8"/><path d="M200.7 675.4L199.8 677.0L198.6 679.1L197.2 681.5L195.6 684.3L193.9 687.3L192.3 690.4L190.7 693.5L189.4 696.5L188.2 699.5L187.0 702.7L185.9 705.9L184.8 709.2L183.8 712.5L182.9 715.9L182.0 719.2L181.2 722.5L180.6 725.7L180.0 729.0L179.5 732.2L179.0 735.5L178.6 738.7L178.4 742.0L178.1 745.2L178.0 748.5L177.9 751.7L177.9 755.0L178.0 758.2L178.2 761.5L178.4 764.7L178.8 768.0L179.2 771.2L179.6 774.5L180.2 777.7L180.8 781.0L181.5 784.2L182.3 787.5L183.1 790.7L184.0 794.0L185.0 797.2L186.1 800.5L187.3 803.8L188.7 807.2L190.1 810.6L191.6 814.0L193.1 817.3L194.7 820.5L196.1 823.6L197.5 826.5L198.9 829.3L200.3 832.1L201.7 834.8L203.1 837.4L204.4 839.8L205.5 841.9L206.5 843.6L207.2 845.0L207.2 852.5L256.0 852.5L256.0 845.0L253.9 842.8L251.1 840.0L247.7 836.5L243.9 832.7L240.1 828.7L236.3 824.5L232.9 820.5L230.0 816.7L227.6 813.2L225.3 809.6L223.3 806.0L221.4 802.4L219.7 798.7L218.1 795.1L216.7 791.3L215.4 787.5L214.2 783.6L213.2 779.6L212.3 775.5L211.6 771.4L210.9 767.3L210.5 763.2L210.1 759.1L209.8 755.0L209.7 750.9L209.7 746.7L209.9 742.5L210.1 738.3L210.5 734.2L211.0 730.2L211.5 726.2L212.1 722.5L212.9 718.9L213.8 715.2L214.8 711.7L215.9 708.3L217.1 705.1L218.2 702.0L219.3 699.1L220.2 696.5L221.2 694.1L222.1 691.9L223.1 689.9L224.0 688.0L224.9 686.4L225.6 685.0L226.3 683.8L226.7 682.8Z" fill="url(#dk)" /><path d="M155.2 712.7L179.6 717.6L178.0 748.5L178.1 750.5L178.2 753.2L178.3 756.3L178.4 759.9L178.6 763.6L178.8 767.4L179.2 771.1L179.6 774.5L180.2 777.7L180.8 781.0L181.5 784.2L182.3 787.5L183.1 790.7L184.0 794.0L185.0 797.2L186.1 800.5L187.3 803.8L188.7 807.2L190.1 810.6L191.6 814.0L193.1 817.3L194.7 820.5L196.1 823.6L197.5 826.5L198.9 829.3L200.3 832.1L201.7 834.8L203.1 837.4L204.4 839.8L205.5 841.9L206.5 843.6L207.2 845.0L207.2 852.5L166.6 852.5L166.6 845.0L166.1 843.1L165.4 840.5L164.6 837.5L163.7 834.1L162.8 830.5L161.8 826.9L160.9 823.3L160.1 820.0L159.4 816.8L158.6 813.5L157.9 810.2L157.1 806.9L156.4 803.5L155.8 800.3L155.1 797.1L154.6 794.0L154.1 791.0L153.7 788.2L153.3 785.5L153.0 782.8L152.7 780.1L152.4 777.3L152.2 774.4L152.0 771.2L151.8 767.9L151.6 764.4L151.5 760.8L151.4 757.0L151.3 753.2L151.3 749.5L151.3 745.7L151.3 742.0L151.5 738.1L151.8 734.0L152.1 729.7L152.4 725.5L152.8 721.6L153.1 718.0L153.4 715.0L153.6 712.7Z" fill="#56657b" /><path d="M200.7 675.4L199.8 677.0L198.6 679.1L197.2 681.5L195.6 684.3L193.9 687.3L192.3 690.4L190.7 693.5L189.4 696.5L188.2 699.5L187.0 702.7L185.9 705.9L184.8 709.2L183.8 712.5L182.9 715.9L182.0 719.2L181.2 722.5L180.6 725.7L180.0 729.0L179.5 732.2L179.0 735.5L178.6 738.7L178.4 742.0L178.1 745.2L178.0 748.5L177.9 751.7L177.9 755.0L178.0 758.2L178.2 761.5L178.4 764.7L178.8 768.0L179.2 771.2L179.6 774.5L180.2 777.7L180.8 781.0L181.5 784.2L182.3 787.5L183.1 790.7L184.0 794.0L185.0 797.2L186.1 800.5L187.3 803.8L188.7 807.2L190.1 810.6L191.6 814.0L193.1 817.3L194.7 820.5L196.1 823.6L197.5 826.5L198.9 829.3L200.3 832.1L201.7 834.8L203.1 837.4L204.4 839.8L205.5 841.9L206.5 843.6L207.2 845.0" fill="none" stroke="#e9eef2" stroke-width="1.2" opacity="0.9"/><path d="M152.0 771.2L177.3 769.6" fill="none" stroke="#e9eef2" stroke-width="1.2" opacity="0.9"/><path d="M130.8 746.8L150.6 746.8L151.0 757.0L131.1 758.7Z" fill="#56657b" /><path d="M131.1 759.5L151.0 757.9L151.9 777.7L131.6 781.8Z" fill="#56657b" /><path d="M111.0 754.2L129.1 753.7L129.5 758.7L111.3 761.2Z" fill="#56657b" /><path d="M95.2 782.3L110.1 779.3L111.0 787.3L96.1 790.9Z" fill="#56657b" /><path d="M111.8 779.0L130.0 776.0L130.3 783.5L112.3 787.6Z" fill="#56657b" /><path d="M132.1 786.0L152.3 783.0L152.6 786.0L132.4 789.3Z" fill="#56657b" /><path d="M132.4 790.1L152.6 786.8L153.1 790.1L132.8 793.4Z" fill="#56657b" /><path d="M132.8 794.2L153.1 790.9L153.9 797.5L133.4 800.8Z" fill="#56657b" /><path d="M133.4 801.7L153.9 798.3L155.6 808.3L134.4 814.0Z" fill="#56657b" /><path d="M134.4 814.9L155.6 809.1L158.1 820.7L135.7 826.4Z" fill="#56657b" /><path d="M136.1 827.3L158.1 821.5L160.5 832.2L138.2 837.2Z" fill="#56657b" /><path d="M138.7 838.0L160.5 833.1L162.2 845.0L139.9 845.0Z" fill="#56657b" /><path d="M98.6 814.0L112.6 809.1L113.9 815.7L99.4 819.0Z" fill="#56657b" /><path d="M114.3 808.3L132.4 801.7L133.3 806.6L115.1 813.2Z" fill="#56657b" /><path d="M99.7 819.8L113.9 816.5L115.9 829.8L101.4 833.1Z" fill="#56657b" /><path d="M115.6 814.0L133.3 807.4L135.4 819.0L117.6 826.4Z" fill="#56657b" /><path d="M117.6 827.3L135.4 819.8L137.4 830.6L120.0 840.5Z" fill="#56657b" /><path d="M84.5 828.1L98.6 822.6L100.2 832.2L86.5 840.5Z" fill="#56657b" /><path d="M103.5 840.5L119.2 835.9L120.5 845.0L104.3 845.0Z" fill="#56657b" /><path d="M120.9 841.3L137.4 832.2L139.0 845.0L121.7 845.0Z" fill="#56657b" /><path d="M131.6 782.6L151.4 779.0L151.9 782.0L132.1 785.6Z" fill="#c9ced6" /><path d="M94.4 756.2L110.1 755.4L110.5 761.5L94.8 763.1Z" fill="#d08585" /><path d="M80.4 790.1L94.4 787.3L95.2 791.2L81.2 794.5Z" fill="#b8b8b8" /><path d="M364.4 614.9L365.6 615.9L367.2 617.1L369.1 618.5L371.1 620.1L373.3 621.9L375.5 623.9L377.5 626.0L379.4 628.2L381.1 630.5L382.8 633.0L384.4 635.5L386.0 638.3L387.6 641.2L389.2 644.3L390.8 647.5L392.4 651.0L394.1 654.6L395.9 658.5L397.7 662.5L399.5 666.7L401.2 671.0L402.8 675.6L404.2 680.2L405.4 685.0L406.3 690.4L407.0 696.3L407.5 702.7L407.8 709.1L408.1 715.2L408.3 720.8L408.4 725.4L408.6 728.9L437.8 728.9L437.6 727.0L437.5 724.5L437.2 721.5L437.0 718.2L436.7 714.7L436.3 710.9L436.0 707.2L435.5 703.5L435.0 699.8L434.5 695.9L433.9 691.8L433.3 687.6L432.6 683.4L431.8 679.3L431.0 675.3L430.2 671.4L429.2 667.7L428.2 664.1L427.1 660.5L425.9 657.0L424.7 653.6L423.5 650.3L422.2 647.0L421.0 643.9L419.7 641.0L418.5 638.1L417.2 635.4L415.9 632.8L414.6 630.2L413.2 627.6L411.8 625.1L410.3 622.5L408.7 620.0L407.1 617.4L405.4 614.8L403.7 612.3L401.9 609.8L400.2 607.4L398.4 605.0L396.5 602.7L394.6 600.3L392.5 597.9L390.3 595.4L388.0 593.0L385.9 590.8L384.0 588.8L382.4 587.1L381.3 585.9Z" fill="#bddcc9" /><path d="M381.3 585.9L382.4 587.1L384.0 588.8L385.9 590.8L388.0 593.0L390.3 595.4L392.5 597.9L394.6 600.3L396.5 602.7L398.4 605.0L400.2 607.4L401.9 609.8L403.7 612.3L405.4 614.8L407.1 617.4L408.7 620.0L410.3 622.5L411.8 625.1L413.2 627.6L414.6 630.2L415.9 632.8L417.2 635.4L418.5 638.1L419.7 641.0L421.0 643.9L422.2 647.0L423.5 650.3L424.7 653.6L425.9 657.0L427.1 660.5L428.2 664.1L429.2 667.7L430.2 671.4L431.0 675.5L431.9 679.9L432.7 684.5L433.4 689.2L434.1 693.6L434.6 697.7L435.1 701.0L435.5 703.5L456.1 703.5L456.0 701.9L455.8 699.7L455.5 697.1L455.2 694.2L454.9 691.1L454.6 688.0L454.2 685.0L453.8 682.1L453.5 679.5L453.2 677.0L452.8 674.5L452.5 672.0L452.0 669.4L451.5 666.7L450.8 663.9L450.0 660.7L449.0 657.3L447.8 653.6L446.5 649.8L445.1 645.7L443.6 641.7L442.2 637.7L440.7 633.8L439.3 630.2L438.0 626.7L436.6 623.1L435.2 619.7L433.9 616.3L432.5 613.1L431.2 609.9L429.9 607.0L428.6 604.2L427.4 601.6L426.2 599.2L425.0 597.0L423.9 594.9L422.7 593.0L421.6 591.1L420.5 589.2L419.5 587.4L418.4 585.6L417.3 583.7L416.1 581.9L415.1 580.2L414.1 578.7L413.2 577.3L412.4 576.1L411.8 575.2L385.8 575.2Z" fill="#c3dccc" /><path d="M411.8 575.2L412.4 576.1L413.2 577.3L414.1 578.7L415.1 580.2L416.1 581.9L417.3 583.7L418.4 585.6L419.5 587.4L420.5 589.2L421.6 591.1L422.7 593.0L423.9 594.9L425.0 597.0L426.2 599.2L427.4 601.6L428.6 604.2L429.9 607.0L431.2 609.9L432.5 613.1L433.9 616.3L435.2 619.7L436.6 623.1L438.0 626.7L439.3 630.2L440.7 634.0L442.3 638.2L443.8 642.6L445.3 647.1L446.8 651.3L448.1 655.1L449.2 658.4L450.0 660.7L450.0 647.0L465.3 636.3L479.8 621.0L486.7 588.9L483.6 572.1L410.3 572.1Z" fill="#c9dcd0" /><path d="M364.4 614.9L365.6 615.9L367.2 617.1L369.1 618.5L371.1 620.1L373.3 621.9L375.5 623.9L377.5 626.0L379.4 628.2L381.1 630.5L382.8 633.0L384.4 635.5L386.0 638.3L387.6 641.2L389.2 644.3L390.8 647.5L392.4 651.0L394.1 654.6L395.9 658.5L397.7 662.5L399.5 666.7L401.2 671.0L402.8 675.6L404.2 680.2L405.4 685.0L406.3 690.4L407.0 696.3L407.5 702.7L407.8 709.1L408.1 715.2L408.3 720.8L408.4 725.4L408.6 728.9" fill="none" stroke="#eef5f0" stroke-width="1.1" opacity="0.85"/><path d="M381.3 585.9L382.4 587.1L384.0 588.8L385.9 590.8L388.0 593.0L390.3 595.4L392.5 597.9L394.6 600.3L396.5 602.7L398.4 605.0L400.2 607.4L401.9 609.8L403.7 612.3L405.4 614.8L407.1 617.4L408.7 620.0L410.3 622.5L411.8 625.1L413.2 627.6L414.6 630.2L415.9 632.8L417.2 635.4L418.5 638.1L419.7 641.0L421.0 643.9L422.2 647.0L423.5 650.3L424.7 653.6L425.9 657.0L427.1 660.5L428.2 664.1L429.2 667.7L430.2 671.4L431.0 675.3L431.8 679.3L432.6 683.4L433.3 687.6L433.9 691.8L434.5 695.9L435.0 699.8L435.5 703.5L436.0 707.2L436.3 710.9L436.7 714.7L437.0 718.2L437.2 721.5L437.5 724.5L437.6 727.0L437.8 728.9" fill="none" stroke="#eef5f0" stroke-width="1.1" opacity="0.85"/><path d="M411.8 575.2L412.4 576.1L413.2 577.3L414.1 578.7L415.1 580.2L416.1 581.9L417.3 583.7L418.4 585.6L419.5 587.4L420.5 589.2L421.6 591.1L422.7 593.0L423.9 594.9L425.0 597.0L426.2 599.2L427.4 601.6L428.6 604.2L429.9 607.0L431.2 609.9L432.5 613.1L433.9 616.3L435.2 619.7L436.6 623.1L438.0 626.7L439.3 630.2L440.7 633.8L442.2 637.7L443.6 641.7L445.1 645.7L446.5 649.8L447.8 653.6L449.0 657.3L450.0 660.7L450.8 663.9L451.5 666.7L452.0 669.4L452.5 672.0L452.8 674.5L453.2 677.0L453.5 679.5L453.8 682.1L454.2 685.0L454.6 688.0L454.9 691.1L455.2 694.2L455.5 697.1L455.8 699.7L456.0 701.9L456.1 703.5" fill="none" stroke="#eef5f0" stroke-width="1.1" opacity="0.85"/><path d="M439.3 577.5L439.9 578.3L440.6 579.4L441.5 580.6L442.5 582.0L443.5 583.6L444.7 585.3L445.8 587.1L447.0 588.9L448.2 590.8L449.5 592.8L450.9 594.8L452.3 597.0L453.7 599.3L455.1 601.8L456.5 604.4L457.7 607.3L458.8 610.6L460.0 614.4L461.1 618.6L462.2 622.9L463.1 627.1L464.0 630.8L464.7 634.0L465.3 636.3" fill="none" stroke="#eef5f0" stroke-width="1.0" opacity="0.7"/><path d="M462.2 576.7L463.0 578.2L463.9 580.2L465.0 582.5L466.3 585.1L467.6 587.9L469.0 590.8L470.2 593.7L471.4 596.6L472.6 599.6L473.8 602.9L475.0 606.5L476.2 610.0L477.3 613.4L478.3 616.5L479.2 619.1L479.8 621.0" fill="none" stroke="#eef5f0" stroke-width="1.0" opacity="0.7"/><path d="M388.9 644.7L428.6 605.0" fill="none" stroke="#eef5f0" stroke-width="1.1" opacity="0.8"/><path d="M428.6 605.0L456.1 575.2" fill="none" stroke="#eef5f0" stroke-width="1.1" opacity="0.8"/><path d="M405.7 683.7L450.0 661.5" fill="none" stroke="#eef5f0" stroke-width="1.1" opacity="0.8"/><path d="M422.5 592.0L439.3 577.5" fill="none" stroke="#eef5f0" stroke-width="1.1" opacity="0.8"/><path d="M457.7 607.3L471.4 596.6" fill="none" stroke="#eef5f0" stroke-width="1.1" opacity="0.8"/><path d="M345.4 649.4L346.5 651.2L348.1 653.6L350.0 656.5L352.1 659.7L354.2 663.2L356.3 666.7L358.3 670.3L360.0 673.7L361.5 677.1L362.9 680.6L364.2 684.2L365.5 687.9L366.7 691.6L367.8 695.3L368.8 699.2L369.7 703.0L370.6 706.9L371.5 711.0L372.2 715.1L372.9 719.2L373.5 723.4L374.0 727.5L374.4 731.6L374.6 735.5L374.7 739.5L374.6 743.7L374.4 748.0L374.1 752.2L373.8 756.1L373.4 759.6L373.2 762.5L373.0 764.7L403.9 772.9L404.3 769.5L404.9 765.0L405.7 759.6L406.5 753.7L407.3 747.4L408.0 741.0L408.5 734.8L408.7 729.0L408.8 723.4L408.7 717.8L408.5 712.1L408.2 706.4L407.8 700.9L407.2 695.4L406.4 690.1L405.5 685.1L404.3 680.3L402.9 675.6L401.3 671.1L399.6 666.7L397.8 662.5L396.0 658.5L394.2 654.7L392.5 651.0L390.9 647.5L389.3 644.3L387.7 641.2L386.1 638.3L384.5 635.6L382.9 633.0L381.2 630.5L379.5 628.2L377.6 626.1L375.6 624.0L373.5 622.1L371.4 620.3L369.4 618.7L367.5 617.4L366.0 616.2L364.9 615.2Z" fill="url(#gr)" /><path d="M434.7 690.0L454.2 685.1L455.9 693.2L436.4 698.1Z" fill="#a9d6b9" /><path d="M434.7 699.7L455.9 695.8L457.5 703.0L436.4 706.2Z" fill="#a9d6b9" /><path d="M436.4 707.9L457.5 704.6L457.5 712.7L436.4 716.0Z" fill="#a9d6b9" /><path d="M457.5 683.5L475.4 677.6L477.0 690.6L457.5 693.2Z" fill="#a9d6b9" /><path d="M457.5 694.9L477.0 691.9L478.6 700.4L459.1 703.0Z" fill="#a9d6b9" /><path d="M459.1 704.6L478.6 701.4L478.6 709.5L459.1 712.1Z" fill="#a9d6b9" /><path d="M478.6 690.0L494.9 687.4L494.9 696.5L478.6 699.7Z" fill="#a9d6b9" /><path d="M478.6 700.4L494.9 698.1L494.9 706.9L479.6 709.5Z" fill="#a9d6b9" /><path d="M494.9 685.1L511.1 682.8L511.1 693.2L495.8 695.8Z" fill="#a9d6b9" /><path d="M451.6 655.9L470.5 646.1L473.7 663.3L454.9 677.6Z" fill="#a9d6b9" /><path d="M470.5 646.1L488.4 637.3L490.0 654.2L473.7 662.0Z" fill="#a9d6b9" /><path d="M436.4 727.4L457.5 726.4L457.5 730.6L436.4 731.6Z" fill="#a9d6b9" /><path d="M459.1 725.7L477.0 724.8L477.0 729.6L459.1 730.3Z" fill="#a9d6b9" /><path d="M478.6 724.1L494.9 723.5L494.9 728.3L478.6 729.3Z" fill="#a9d6b9" /><path d="M436.4 752.4L455.9 753.4L455.9 757.3L436.4 756.0Z" fill="#a9d6b9" /><path d="M457.5 753.7L475.4 754.3L475.4 758.2L457.5 757.6Z" fill="#a9d6b9" /><path d="M477.0 754.3L493.2 755.0L493.2 759.9L477.0 758.9Z" fill="#a9d6b9" /><path d="M488.4 637.3L503.0 635.4L505.6 649.4L490.0 655.9Z" fill="#8fa89a" /><path d="M476.0 676.3L491.6 672.1L493.2 682.8L477.6 686.7Z" fill="#7a9887" /><path d="M496.5 721.8L512.1 721.2L512.1 726.7L496.5 727.7Z" fill="#9a7f72" /><path d="M373.0 764.7L371.8 767.3L370.1 770.7L368.2 774.8L366.1 779.4L363.8 784.1L361.4 788.8L359.0 793.3L356.7 797.2L354.4 800.8L352.0 804.3L349.5 807.7L347.0 810.9L344.5 814.1L342.0 817.2L339.5 820.2L337.2 823.2L334.9 826.3L332.6 829.5L330.2 832.7L327.9 835.8L325.8 838.6L323.8 841.2L322.2 843.4L321.0 845.0L321.0 852.5L373.0 852.5L373.0 845.0L374.3 842.4L376.0 838.8L378.0 834.6L380.2 830.0L382.6 825.0L384.9 819.9L387.2 815.0L389.2 810.2L391.2 805.4L393.4 800.2L395.5 794.8L397.6 789.4L399.5 784.3L401.3 779.6L402.8 775.8L403.9 772.9Z" fill="url(#pu)" /><path d="M403.9 772.9L402.8 775.8L401.3 779.6L399.5 784.3L397.6 789.4L395.5 794.8L393.4 800.2L391.2 805.4L389.2 810.2L387.2 815.0L384.9 819.9L382.6 825.0L380.2 830.0L378.0 834.6L376.0 838.8L374.3 842.4L373.0 845.0L373.0 852.5L408.7 852.5L408.7 845.0L409.8 842.3L411.2 838.6L412.9 834.3L414.7 829.5L416.7 824.4L418.5 819.4L420.3 814.6L421.7 810.2L423.0 806.1L424.3 801.9L425.5 797.6L426.6 793.4L427.6 789.6L428.5 786.1L429.3 783.2L429.9 781.0Z" fill="#c3b9ea" /><path d="M429.9 781.0L450.3 786.8L444.5 816.7L460.7 845.0L460.7 852.5L408.7 852.5L408.7 845.0L421.7 810.2Z" fill="#bdb0ea" /><path d="M403.9 772.9L402.8 775.8L401.3 779.6L399.5 784.3L397.6 789.4L395.5 794.8L393.4 800.2L391.2 805.4L389.2 810.2L387.2 815.0L384.9 819.9L382.6 825.0L380.2 830.0L378.0 834.6L376.0 838.8L374.3 842.4L373.0 845.0" fill="none" stroke="#f0eef8" stroke-width="1.2" opacity="0.9"/><path d="M429.9 781.0L429.3 783.2L428.5 786.1L427.6 789.6L426.6 793.4L425.5 797.6L424.3 801.9L423.0 806.1L421.7 810.2L420.3 814.6L418.5 819.4L416.7 824.4L414.7 829.5L412.9 834.3L411.2 838.6L409.8 842.3L408.7 845.0" fill="none" stroke="#f0eef8" stroke-width="1.1" opacity="0.85"/><path d="M420.1 816.7L447.7 833.0" fill="none" stroke="#f0eef8" stroke-width="1.1" opacity="0.85"/><path d="M451.0 787.5L470.5 792.4L468.9 813.5L447.7 805.4Z" fill="#a595e4" /><path d="M471.1 792.4L487.4 796.6L484.1 817.4L466.6 812.5Z" fill="#a595e4" /><path d="M446.1 807.0L465.6 813.5L464.0 823.2L444.5 816.7Z" fill="#a595e4" /><path d="M480.2 816.7L498.1 822.6L494.9 831.4L478.6 826.5Z" fill="#a595e4" /><path d="M465.6 814.5L482.8 818.4L480.9 827.1L464.0 823.9Z" fill="#a595e4" /><path d="M434.7 829.7L454.2 836.2L455.9 845.0L434.7 845.0Z" fill="#a595e4" /><defs><clipPath id="hc"><ellipse cx="291" cy="741.5" rx="82" ry="114" transform="rotate(-5 291 741.5)"/></clipPath></defs><ellipse cx="291" cy="741.5" rx="82" ry="114" transform="rotate(-5 291 741.5)" fill="#e1e3e5"/><g clip-path="url(#hc)"><path d="M345 670 L300 712 L268 760 L250 820 L262 870" fill="none" stroke="#c4cfd8" stroke-width="34" stroke-linecap="round" stroke-linejoin="round" filter="url(#bl)" opacity="0.9"/><path d="M360 640 L330 690" fill="none" stroke="#c4ced8" stroke-width="26" stroke-linecap="round" filter="url(#bl)" opacity="0.7"/><ellipse cx="235" cy="690" rx="25" ry="45" fill="#e6e7e8" filter="url(#bl)"/><ellipse cx="345" cy="770" rx="25" ry="55" fill="#e4e5e6" filter="url(#bl)"/></g><rect x="590" y="605" width="1" height="240" fill="#d2d4d4"/><rect x="570" y="589" width="46" height="23" rx="11.5" fill="#d3e6d3"/><text x="577" y="605" font-size="9" fill="#9fb59f" font-family="Liberation Mono">↓ 8.97%</text><rect x="571" y="692" width="46" height="24" rx="12" fill="#8ecb8e"/><text x="578" y="708" font-size="9" fill="#254a25" font-family="Liberation Mono" font-weight="bold">↓ 8.97%</text><text x="602" y="639" font-size="8" fill="#a9a9a9" font-family="Liberation Sans">#2</text><text x="602" y="741" font-size="8" fill="#a9a9a9" font-family="Liberation Sans">#3</text><text x="629" y="623" font-size="10" fill="#9a9a9a" font-family="Liberation Sans">Blog</text><text x="629" y="726" font-size="10" fill="#9a9a9a" font-family="Liberation Sans">Blog</text><text x="629" y="642" font-size="12" fill="#333" font-family="Liberation Sans">team::writ</text><text x="630" y="745" font-size="12" fill="#333" font-family="Liberation Sans">team::writ</text><path d="M630 654L678 650V681L630 682Z" fill="#5b9de6"/><text x="635" y="671" font-size="8" fill="#fff" font-family="Liberation Sans">13.8%</text><path d="M631 756L678 753V784L631 785Z" fill="#5b9de6"/><text x="636" y="774" font-size="8" fill="#fff" font-family="Liberation Sans">12.5%</text><path d="M629 700L678 696" stroke="#d8dada" stroke-width="1"/><rect x="25" y="566" width="653" height="34" fill="url(#fade)"/></g></svg>
<div class="r" style="left:1359px;top:40px;width:239px;height:837px;background:#fff;"></div>
<div class="r" style="left:1598px;top:40px;width:1px;height:837px;background:#c4c7cd;"></div>
<svg class="r" style="left:0;top:0" width="1837" height="877"><circle cx="1492" cy="65.3" r="2.4" fill="#34a853"/><circle cx="1439.4" cy="83.4" r="4.5" fill="#fbbc04"/><circle cx="1443.7" cy="126.8" r="8.6" fill="#ea4335"/><circle cx="1510.8" cy="157.5" r="4.4" fill="#4285f4"/><g fill="none" stroke="#3c3c3c" stroke-width="1.1"><path d="M1446 143H1509"/><path d="M1449.3 143V127.4Q1449.3 126.4 1450.3 126.4H1459Q1460 126.4 1460 127.4V143"/><path d="M1466 143V111.5Q1466 110.5 1467 110.5H1475.7Q1476.7 110.5 1476.7 111.5V143"/><path d="M1481 143V122.6Q1481 121.6 1482 121.6H1490.6Q1491.6 121.6 1491.6 122.6V143"/><path d="M1497 143V114Q1497 113 1498 113H1506.6Q1507.6 113 1507.6 114V143"/><path d="M1457.33 109.01L1467.67 96.59"/><path d="M1474.79 96.16L1482.21 103.14"/><path d="M1490.10 103.50L1497.90 97.40"/><circle cx="1454" cy="113" r="5.2" fill="#fff"/><circle cx="1471" cy="92.6" r="5.2" fill="#fff"/><circle cx="1486" cy="106.7" r="5.2" fill="#fff"/><circle cx="1502" cy="94.2" r="5.2" fill="#fff"/></g><g fill="none" stroke="#9aa0a6" stroke-width="0.6" stroke-dasharray="1 1"><path d="M1530 105A5 8 0 0 0 1530 120"/><circle cx="1425" cy="118" r="2.5"/><circle cx="1471" cy="167" r="2.5"/></g></svg>
<div class="t" style="left:1178.0px;width:600px;text-align:center;top:201.6px;font-size:17.0px;line-height:17.0px;color:#202124;font-weight:400;-webkit-text-stroke:0.15px #202124;">C'est parti</div>
<div class="t" style="left:1178.0px;width:600px;text-align:center;top:236.6px;font-size:12.5px;line-height:12.5px;color:#3c4043;font-weight:400;">Faites glisser un champ du panneau</div>
<div class="t" style="left:1178.0px;width:600px;text-align:center;top:252.5px;font-size:12.5px;line-height:12.5px;color:#3c4043;font-weight:400;">"Données" vers la toile pour ajouter</div>
<div class="t" style="left:1178.0px;width:600px;text-align:center;top:268.3px;font-size:12.5px;line-height:12.5px;color:#3c4043;font-weight:400;">un graphique ou sélectionnez un</div>
<div class="t" style="left:1178.0px;width:600px;text-align:center;top:284.2px;font-size:12.5px;line-height:12.5px;color:#3c4043;font-weight:400;">composant sur la toile du rapport</div>
<div class="t" style="left:1178.0px;width:600px;text-align:center;top:300.0px;font-size:12.5px;line-height:12.5px;color:#3c4043;font-weight:400;">pour le modifier.</div>
<svg class="r" style="left:1609px;top:56px;" width="22" height="22" viewBox="0 0 22 22"><g fill="none" stroke="#4a4d52" stroke-width="2"><rect x="2" y="2" width="18" height="18"/><path d="M2 8H20M2 14H20"/></g><g fill="#4a4d52"><rect x="4" y="4" width="2" height="2"/><rect x="4" y="10" width="2" height="2"/><rect x="4" y="16" width="2" height="2"/></g></svg>
<div class="t" style="left:1640.0px;top:59.9px;font-size:16.6px;line-height:16.6px;color:#1f1f1f;font-weight:400;">Données</div>
<div class="r" style="left:1599px;top:94px;width:238px;height:1px;background:#c7c9cc;"></div>
<div class="r" style="left:1603px;top:101px;width:229px;height:30px;background:#f1f3f4;border-radius:8px;"></div>
<svg class="r" style="left:1608px;top:107px;" width="17" height="17" viewBox="0 -960 960 960"><path d="M784-120 532-372q-30 24-69 38t-83 14q-109 0-184.5-75.5T120-580q0-109 75.5-184.5T380-840q109 0 184.5 75.5T640-580q0 44-14 83t-38 69l252 252-56 56ZM380-400q75 0 127.5-52.5T560-580q0-75-52.5-127.5T380-760q-75 0-127.5 52.5T200-580q0 75 52.5 127.5T380-400Z" fill="#4a4d52"/></svg>
<div class="t" style="left:1631.0px;top:111.0px;font-size:11.8px;line-height:11.8px;color:#5f6368;font-weight:400;">Rechercher</div>
<svg class="r" style="left:1608px;top:150px;" width="17" height="17" viewBox="0 0 17 17"><rect x="0.4" y="0.5" width="17" height="16.7" rx="1.5" fill="#7395c0"/><path d="M4.5 7.3H8.6V5L12.5 8.5L8.6 12V9.7H4.5Z" fill="#fff"/></svg>
<div class="t" style="left:1635.0px;top:152.7px;font-size:11.3px;line-height:11.3px;color:#1f1f1f;font-weight:400;">Piano Analytics</div>
<div class="r" style="left:1603px;top:176px;width:230px;height:1px;background:#c7c9cc;"></div>
<div class="r" style="left:1823px;top:177px;width:8px;height:615px;background:#eeeeee;"></div>
<div class="r" style="left:1823px;top:179px;width:8px;height:107px;background:#a6a6a6;border-radius:4px;"></div>
<div class="t" style="left:1612.3px;top:184.5px;font-size:11.0px;line-height:11.0px;color:#1f1f1f;font-weight:400;letter-spacing:0.1px;-webkit-text-stroke:0.35px #1f1f1f;">Piano metrics</div>
<div class="t" style="left:1612.3px;top:206.5px;font-size:11.0px;line-height:11.0px;color:#1f1f1f;font-weight:400;letter-spacing:0.1px;-webkit-text-stroke:0.35px #1f1f1f;">Sources</div>
<div class="t" style="left:1612.3px;top:228.5px;font-size:11.0px;line-height:11.0px;color:#1f1f1f;font-weight:400;letter-spacing:0.1px;-webkit-text-stroke:0.35px #1f1f1f;">ecommerce</div>
<div class="t" style="left:1612.3px;top:250.5px;font-size:11.0px;line-height:11.0px;color:#1f1f1f;font-weight:400;letter-spacing:0.1px;-webkit-text-stroke:0.35px #1f1f1f;">in-App</div>
<div class="t" style="left:1612.3px;top:272.5px;font-size:11.0px;line-height:11.0px;color:#1f1f1f;font-weight:400;letter-spacing:0.1px;-webkit-text-stroke:0.35px #1f1f1f;">Voice Analytics</div>
<div class="t" style="left:1612.3px;top:294.5px;font-size:11.0px;line-height:11.0px;color:#1f1f1f;font-weight:400;letter-spacing:0.1px;-webkit-text-stroke:0.35px #1f1f1f;">Audience</div>
<div class="t" style="left:1612.3px;top:316.5px;font-size:11.0px;line-height:11.0px;color:#1f1f1f;font-weight:400;letter-spacing:0.1px;-webkit-text-stroke:0.35px #1f1f1f;">Audio / video</div>
<div class="t" style="left:1612.3px;top:338.5px;font-size:11.0px;line-height:11.0px;color:#1f1f1f;font-weight:400;letter-spacing:0.1px;-webkit-text-stroke:0.35px #1f1f1f;">Artist</div>
<div class="t" style="left:1612.3px;top:360.5px;font-size:11.0px;line-height:11.0px;color:#1f1f1f;font-weight:400;letter-spacing:0.1px;-webkit-text-stroke:0.35px #1f1f1f;">Visits</div>
<div class="t" style="left:1612.3px;top:382.5px;font-size:11.0px;line-height:11.0px;color:#1f1f1f;font-weight:400;letter-spacing:0.1px;-webkit-text-stroke:0.35px #1f1f1f;">Technology</div>
<div class="t" style="left:1612.3px;top:404.5px;font-size:11.0px;line-height:11.0px;color:#1f1f1f;font-weight:400;letter-spacing:0.1px;-webkit-text-stroke:0.35px #1f1f1f;">User</div>
<div class="t" style="left:1612.3px;top:426.5px;font-size:11.0px;line-height:11.0px;color:#1f1f1f;font-weight:400;letter-spacing:0.1px;-webkit-text-stroke:0.35px #1f1f1f;">Geolocation</div>
<div class="t" style="left:1612.3px;top:448.5px;font-size:11.0px;line-height:11.0px;color:#1f1f1f;font-weight:400;letter-spacing:0.1px;-webkit-text-stroke:0.35px #1f1f1f;">Usability</div>
<div class="t" style="left:1612.3px;top:470.5px;font-size:11.0px;line-height:11.0px;color:#1f1f1f;font-weight:400;letter-spacing:0.1px;-webkit-text-stroke:0.35px #1f1f1f;">Events</div>
<div class="t" style="left:1612.3px;top:492.5px;font-size:11.0px;line-height:11.0px;color:#1f1f1f;font-weight:400;letter-spacing:0.1px;-webkit-text-stroke:0.35px #1f1f1f;">Pages</div>
<div class="t" style="left:1612.3px;top:514.5px;font-size:11.0px;line-height:11.0px;color:#1f1f1f;font-weight:400;letter-spacing:0.1px;-webkit-text-stroke:0.35px #1f1f1f;">Content Profiles</div>
<div class="t" style="left:1612.3px;top:536.5px;font-size:11.0px;line-height:11.0px;color:#1f1f1f;font-weight:400;letter-spacing:0.1px;-webkit-text-stroke:0.35px #1f1f1f;">Composer</div>
<div class="t" style="left:1612.3px;top:558.5px;font-size:11.0px;line-height:11.0px;color:#1f1f1f;font-weight:400;letter-spacing:0.1px;-webkit-text-stroke:0.35px #1f1f1f;">test</div>
<div class="t" style="left:1612.3px;top:580.5px;font-size:11.0px;line-height:11.0px;color:#1f1f1f;font-weight:400;letter-spacing:0.1px;-webkit-text-stroke:0.35px #1f1f1f;">Time</div>
<div class="t" style="left:1612.3px;top:602.5px;font-size:11.0px;line-height:11.0px;color:#1f1f1f;font-weight:400;letter-spacing:0.1px;-webkit-text-stroke:0.35px #1f1f1f;">Traffic exclusion</div>
<div class="t" style="left:1612.3px;top:624.5px;font-size:11.0px;line-height:11.0px;color:#1f1f1f;font-weight:400;letter-spacing:0.1px;-webkit-text-stroke:0.35px #1f1f1f;">Internal search engine</div>
<div class="t" style="left:1612.3px;top:646.5px;font-size:11.0px;line-height:11.0px;color:#1f1f1f;font-weight:400;letter-spacing:0.1px;-webkit-text-stroke:0.35px #1f1f1f;">MV Testing</div>
<div class="t" style="left:1612.3px;top:668.5px;font-size:11.0px;line-height:11.0px;color:#1f1f1f;font-weight:400;letter-spacing:0.1px;-webkit-text-stroke:0.35px #1f1f1f;">Training</div>
<div class="t" style="left:1612.3px;top:690.5px;font-size:11.0px;line-height:11.0px;color:#1f1f1f;font-weight:400;letter-spacing:0.1px;-webkit-text-stroke:0.35px #1f1f1f;">Article</div>
<div class="t" style="left:1612.3px;top:712.5px;font-size:11.0px;line-height:11.0px;color:#1f1f1f;font-weight:400;letter-spacing:0.1px;-webkit-text-stroke:0.35px #1f1f1f;">OffSite events</div>
<div class="t" style="left:1612.3px;top:734.5px;font-size:11.0px;line-height:11.0px;color:#1f1f1f;font-weight:400;letter-spacing:0.1px;-webkit-text-stroke:0.35px #1f1f1f;">On site ads</div>
<div class="t" style="left:1612.3px;top:756.5px;font-size:11.0px;line-height:11.0px;color:#1f1f1f;font-weight:400;letter-spacing:0.1px;-webkit-text-stroke:0.35px #1f1f1f;">page</div>
<div class="t" style="left:1612.3px;top:778.5px;font-size:11.0px;line-height:11.0px;color:#1f1f1f;font-weight:400;letter-spacing:0.1px;-webkit-text-stroke:0.35px #1f1f1f;">template</div>
<svg class="r" style="left:0;top:0" width="1837" height="877"><path d="M1810.5 187.8L1815 192.3L1819.5 187.8" fill="none" stroke="#5f6368" stroke-width="1.1"/><path d="M1810.5 209.8L1815 214.3L1819.5 209.8" fill="none" stroke="#5f6368" stroke-width="1.1"/><path d="M1810.5 231.8L1815 236.3L1819.5 231.8" fill="none" stroke="#5f6368" stroke-width="1.1"/><path d="M1810.5 253.8L1815 258.3L1819.5 253.8" fill="none" stroke="#5f6368" stroke-width="1.1"/><path d="M1810.5 275.8L1815 280.3L1819.5 275.8" fill="none" stroke="#5f6368" stroke-width="1.1"/><path d="M1810.5 297.8L1815 302.3L1819.5 297.8" fill="none" stroke="#5f6368" stroke-width="1.1"/><path d="M1810.5 319.8L1815 324.3L1819.5 319.8" fill="none" stroke="#5f6368" stroke-width="1.1"/><path d="M1810.5 341.8L1815 346.3L1819.5 341.8" fill="none" stroke="#5f6368" stroke-width="1.1"/><path d="M1810.5 363.8L1815 368.3L1819.5 363.8" fill="none" stroke="#5f6368" stroke-width="1.1"/><path d="M1810.5 385.8L1815 390.3L1819.5 385.8" fill="none" stroke="#5f6368" stroke-width="1.1"/><path d="M1810.5 407.8L1815 412.3L1819.5 407.8" fill="none" stroke="#5f6368" stroke-width="1.1"/><path d="M1810.5 429.8L1815 434.3L1819.5 429.8" fill="none" stroke="#5f6368" stroke-width="1.1"/><path d="M1810.5 451.8L1815 456.3L1819.5 451.8" fill="none" stroke="#5f6368" stroke-width="1.1"/><path d="M1810.5 473.8L1815 478.3L1819.5 473.8" fill="none" stroke="#5f6368" stroke-width="1.1"/><path d="M1810.5 495.8L1815 500.3L1819.5 495.8" fill="none" stroke="#5f6368" stroke-width="1.1"/><path d="M1810.5 517.8L1815 522.3L1819.5 517.8" fill="none" stroke="#5f6368" stroke-width="1.1"/><path d="M1810.5 539.8L1815 544.3L1819.5 539.8" fill="none" stroke="#5f6368" stroke-width="1.1"/><path d="M1810.5 561.8L1815 566.3L1819.5 561.8" fill="none" stroke="#5f6368" stroke-width="1.1"/><path d="M1810.5 583.8L1815 588.3L1819.5 583.8" fill="none" stroke="#5f6368" stroke-width="1.1"/><path d="M1810.5 605.8L1815 610.3L1819.5 605.8" fill="none" stroke="#5f6368" stroke-width="1.1"/><path d="M1810.5 627.8L1815 632.3L1819.5 627.8" fill="none" stroke="#5f6368" stroke-width="1.1"/><path d="M1810.5 649.8L1815 654.3L1819.5 649.8" fill="none" stroke="#5f6368" stroke-width="1.1"/><path d="M1810.5 671.8L1815 676.3L1819.5 671.8" fill="none" stroke="#5f6368" stroke-width="1.1"/><path d="M1810.5 693.8L1815 698.3L1819.5 693.8" fill="none" stroke="#5f6368" stroke-width="1.1"/><path d="M1810.5 715.8L1815 720.3L1819.5 715.8" fill="none" stroke="#5f6368" stroke-width="1.1"/><path d="M1810.5 737.8L1815 742.3L1819.5 737.8" fill="none" stroke="#5f6368" stroke-width="1.1"/><path d="M1810.5 759.8L1815 764.3L1819.5 759.8" fill="none" stroke="#5f6368" stroke-width="1.1"/><path d="M1810.5 781.8L1815 786.3L1819.5 781.8" fill="none" stroke="#5f6368" stroke-width="1.1"/></svg>
<svg class="r" style="left:1609px;top:797px;" width="16" height="16" viewBox="0 0 16 16"><circle cx="8" cy="8" r="8" fill="#4285f4"/><path d="M8 3.5V12.5M3.5 8H12.5" stroke="#fff" stroke-width="1.8"/></svg>
<div class="t" style="left:1635.5px;top:799.0px;font-size:11.8px;line-height:11.8px;color:#4285f4;font-weight:400;">Ajouter un champ</div>
<svg class="r" style="left:1609px;top:822px;" width="16" height="16" viewBox="0 0 16 16"><circle cx="8" cy="8" r="8" fill="#4285f4"/><path d="M8 3.5V12.5M3.5 8H12.5" stroke="#fff" stroke-width="1.8"/></svg>
<div class="t" style="left:1635.5px;top:824.0px;font-size:11.8px;line-height:11.8px;color:#4285f4;font-weight:400;">Ajouter un paramètre</div>
<div class="r" style="left:1599px;top:844px;width:238px;height:1px;background:#c7c9cc;"></div>
<svg class="r" style="left:1606px;top:855px;" width="16" height="16" viewBox="0 0 16 16"><circle cx="8" cy="8" r="8" fill="#4285f4"/><path d="M8 3.5V12.5M3.5 8H12.5" stroke="#fff" stroke-width="1.8"/></svg>
<div class="t" style="left:1632.5px;top:856.6px;font-size:11.7px;line-height:11.7px;color:#4285f4;font-weight:400;">Ajouter des données</div>
</body></html>
